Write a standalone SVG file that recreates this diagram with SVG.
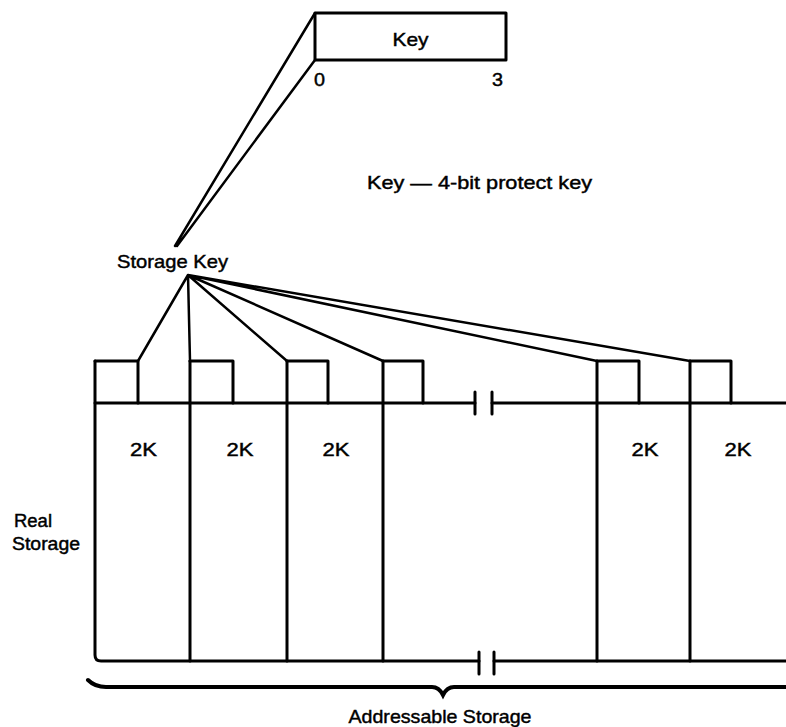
<svg xmlns="http://www.w3.org/2000/svg" width="786" height="727" viewBox="0 0 786 727">
<style>
  .ln { fill: none; stroke: #000; stroke-width: 3; stroke-linejoin: round; stroke-linecap: round; }
  .thin { fill: none; stroke: #000; stroke-width: 2.5; stroke-linecap: round; }
  .t { font-family: "Liberation Sans", Arial, sans-serif; font-size: 19px; fill: #000; stroke: #000; stroke-width: 0.45; }
</style>
<rect width="786" height="727" fill="#fff"/>

<g id="key-field">
  <rect x="315" y="13" width="191" height="47" class="ln"/>
  <text class="t" x="410.5" y="46" text-anchor="middle" textLength="36" lengthAdjust="spacingAndGlyphs">Key</text>
  <text class="t" x="314" y="86" textLength="11" lengthAdjust="spacingAndGlyphs">0</text>
  <text class="t" x="492" y="86" textLength="11" lengthAdjust="spacingAndGlyphs">3</text>
</g>

<g id="legend">
  <text class="t" x="367" y="189" textLength="225" lengthAdjust="spacingAndGlyphs">Key — 4-bit protect key</text>
</g>

<g id="storage-key">
  <text class="t" x="117" y="268" textLength="111" lengthAdjust="spacingAndGlyphs">Storage Key</text>
</g>

<g id="real-storage-label">
  <text class="t" x="14" y="527" style="font-size:18px" textLength="38" lengthAdjust="spacingAndGlyphs">Real</text>
  <text class="t" x="12" y="550" style="font-size:18px" textLength="68" lengthAdjust="spacingAndGlyphs">Storage</text>
</g>

<g id="real-storage">
  <path class="ln" d="M95 403 H475 M492 403 H786"/>
  <path class="ln" d="M475 392 V414 M492 392 V414"/>
  <path class="ln" d="M95 361 V655 Q95 661 101 661 H479 M494 661 H786"/>
  <path class="ln" d="M479 652 V674 M494 652 V674"/>
  <path class="ln" d="M190 361 V661 M287 361 V661 M383 361 V661 M597 361 V661 M690 361 V661"/>
</g>

<g id="key-blocks">
  <path class="ln" d="M95 361 H138 V403"/>
  <path class="ln" d="M190 361 H233 V403"/>
  <path class="ln" d="M287 361 H328 V403"/>
  <path class="ln" d="M383 361 H423 V403"/>
  <path class="ln" d="M597 361 H639 V403"/>
  <path class="ln" d="M690 361 H731 V403"/>
</g>

<g id="blocks-2k">
  <text class="t" x="143.5" y="456" text-anchor="middle" textLength="27" lengthAdjust="spacingAndGlyphs">2K</text>
  <text class="t" x="240" y="456" text-anchor="middle" textLength="27" lengthAdjust="spacingAndGlyphs">2K</text>
  <text class="t" x="336" y="456" text-anchor="middle" textLength="27" lengthAdjust="spacingAndGlyphs">2K</text>
  <text class="t" x="645" y="456" text-anchor="middle" textLength="27" lengthAdjust="spacingAndGlyphs">2K</text>
  <text class="t" x="738" y="456" text-anchor="middle" textLength="27" lengthAdjust="spacingAndGlyphs">2K</text>
</g>

<g id="connectors">
  <path class="thin" d="M315 13 L175 246 M315 60 L177 246"/>
  <path class="thin" d="M188 275 L138 361 M188 275 L190 361 M188 275 L287 361 M188 275 L383 361 M188 275 L597 361 M188 275 L690 361"/>
</g>

<g id="addressable-storage">
  <path fill="none" stroke="#000" stroke-width="4" stroke-linecap="round" d="M88 680 Q95 687 106 687 H432 Q439 687 443 695 Q447 687 454 687 H786"/>
  <text class="t" x="440" y="723" text-anchor="middle" textLength="183" lengthAdjust="spacingAndGlyphs">Addressable Storage</text>
</g>
</svg>
